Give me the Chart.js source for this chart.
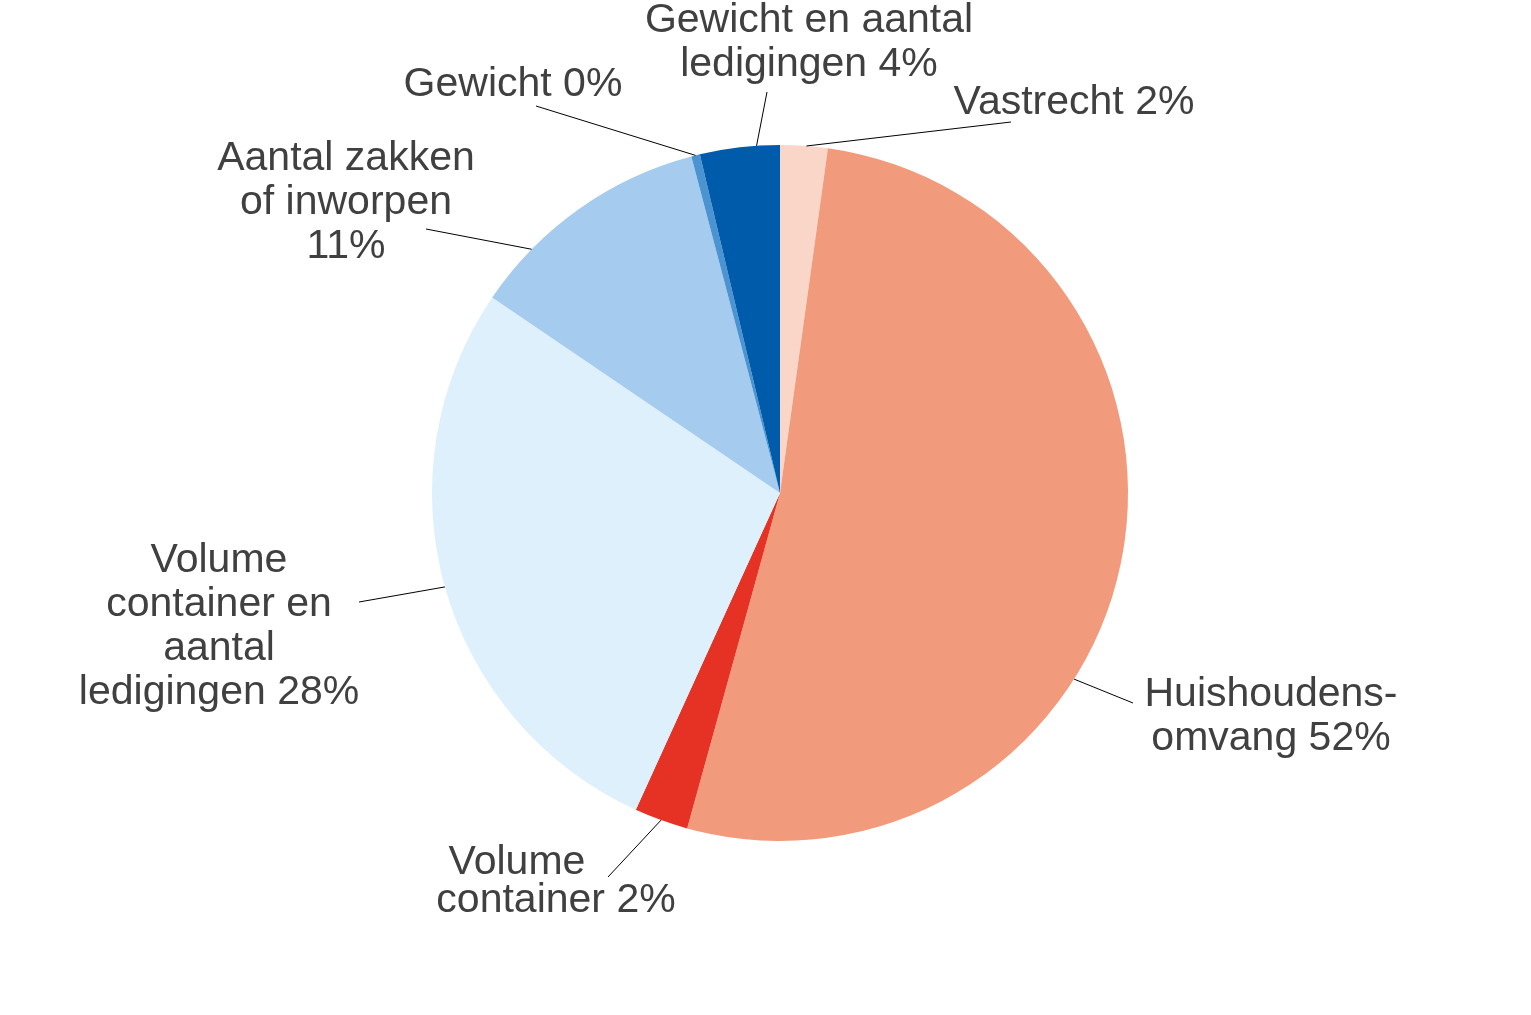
<!DOCTYPE html>
<html>
<head>
<meta charset="utf-8">
<script src="https://cdn.jsdelivr.net/npm/chart.js@4"></script>
<style>
  html, body { margin: 0; padding: 0; background: #ffffff; }
  #wrap { width: 1531px; height: 1015px; }
</style>
</head>
<body>
<div id="wrap"><canvas id="pieChart" width="1531" height="1015"></canvas></div>
<script>
// slice data, clockwise from 12 o'clock
const categories = [
  'Vastrecht',
  'Huishoudens-omvang',
  'Volume container',
  'Volume container en aantal ledigingen',
  'Aantal zakken of inworpen',
  'Gewicht',
  'Gewicht en aantal ledigingen'
];
const shares = [2.2, 52.1, 2.5, 27.7, 11.4, 0.4, 3.7];
const shownPct = ['2%', '52%', '2%', '28%', '11%', '0%', '4%'];
const sliceColors = ['#F9D6C8', '#F29A7C', '#E53224', '#DEF0FC', '#A5CBEE', '#4C93D2', '#005BAA'];

// label text split in lines as in the picture
const labelLines = [
  ['Vastrecht 2%'],
  ['Huishoudens-', 'omvang 52%'],
  ['Volume', 'container 2%'],
  ['Volume', 'container en', 'aantal', 'ledigingen 28%'],
  ['Aantal zakken', 'of inworpen', '11%'],
  ['Gewicht 0%'],
  ['Gewicht en aantal', 'ledigingen 4%']
];

// label placement relative to pie centre: text centre, leader end, where along the slice the leader starts
const labelLayout = [
  { x: 294, y: -390, endX: 231, endY: -371, t: 0.55 },
  { x: 491, y: 224, endX: 353, endY: 210, t: 0.61 },
  { x: -224, y: 390, endX: -172, endY: 384, t: 0.5, lineDx: [-39, 0], lineDy: [2, -4] },
  { x: -561, y: 134, endX: -421, endY: 109, t: 0.5 },
  { x: -434, y: -290, endX: -354, endY: -264, t: 0.25 },
  { x: -267, y: -408, endX: -244, endY: -387, t: 0.5 },
  { x: 29, y: -450, endX: -13, endY: -401, t: 0.71 }
];

const lineHeight = 44;

const outsideLabels = {
  id: 'outsideLabels',
  afterDatasetsDraw(chart) {
    const ctx = chart.ctx;
    const arcs = chart.getDatasetMeta(0).data;
    ctx.save();
    arcs.forEach((arc, i) => {
      const p = arc.getProps(['x', 'y', 'startAngle', 'endAngle', 'outerRadius'], true);
      const lay = labelLayout[i];
      const a = p.startAngle + (p.endAngle - p.startAngle) * lay.t;
      const sx = p.x + Math.cos(a) * p.outerRadius;
      const sy = p.y + Math.sin(a) * p.outerRadius;

      // leader line
      ctx.beginPath();
      ctx.moveTo(sx, sy);
      ctx.lineTo(p.x + lay.endX, p.y + lay.endY);
      ctx.strokeStyle = '#000000';
      ctx.lineWidth = 1;
      ctx.stroke();

      // text
      const lines = labelLines[i];
      ctx.font = '41px "Liberation Sans", Arial, sans-serif';
      ctx.fillStyle = '#404040';
      ctx.textAlign = 'center';
      ctx.textBaseline = 'middle';
      const top = p.y + lay.y - (lines.length - 1) * lineHeight / 2;
      lines.forEach((ln, k) => {
        const dx = lay.lineDx ? lay.lineDx[k] : 0;
        const dy = lay.lineDy ? lay.lineDy[k] : 0;
        ctx.fillText(ln, p.x + lay.x + dx, top + k * lineHeight + dy);
      });
    });
    ctx.restore();
  }
};

const ctx = document.getElementById('pieChart').getContext('2d');
new Chart(ctx, {
  type: 'pie',
  data: {
    labels: categories,
    datasets: [{
      data: shares,
      backgroundColor: sliceColors,
      borderWidth: 0
    }]
  },
  options: {
    responsive: false,
    animation: false,
    layout: {
      padding: { top: 145, bottom: 174, left: 432, right: 403 }
    },
    plugins: {
      legend: { display: false },
      tooltip: { enabled: false }
    }
  },
  plugins: [outsideLabels]
});
</script>
</body>
</html>
